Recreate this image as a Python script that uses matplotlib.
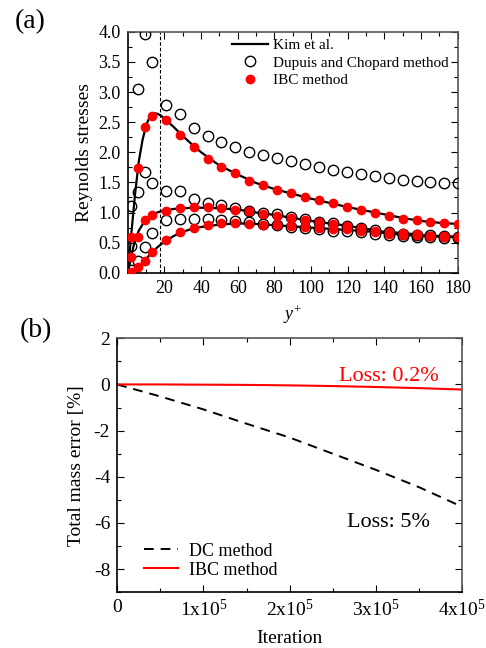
import numpy as np
import matplotlib
matplotlib.use("Agg")
import matplotlib.pyplot as plt

plt.rcParams['font.family'] = ['Liberation Serif', 'DejaVu Serif']
plt.rcParams['mathtext.fontset'] = 'custom'
plt.rcParams['mathtext.rm'] = 'Liberation Serif'
plt.rcParams['mathtext.it'] = 'Liberation Serif:italic'
plt.rcParams['lines.scale_dashes'] = False
plt.rcParams['axes.unicode_minus'] = False

# ---- panel (a): Reynolds stresses ----
# Kim et al. reference curves
kim_y = [0, 2, 4, 6, 8, 10, 12, 14, 16, 18, 20, 25, 30, 35, 40, 50, 60, 70, 80, 90,
         100, 110, 120, 130, 140, 150, 160, 170, 180]
kim_u = [0, 0.68, 1.32, 1.85, 2.2, 2.45, 2.59, 2.65, 2.64, 2.61, 2.56, 2.42, 2.27, 2.13,
         2.0, 1.78, 1.63, 1.49, 1.39, 1.31, 1.23, 1.16, 1.09, 1.03, 0.97, 0.91, 0.86, 0.83, 0.81]
kim_w = [0, 0.3, 0.55, 0.7, 0.8, 0.88, 0.93, 0.97, 1.0, 1.02, 1.03, 1.06, 1.07, 1.08,
         1.08, 1.07, 1.05, 1.0, 0.96, 0.91, 0.86, 0.82, 0.78, 0.73, 0.68, 0.66, 0.63, 0.61, 0.60]
kim_v = [0, 0.02, 0.05, 0.1, 0.16, 0.23, 0.3, 0.36, 0.42, 0.47, 0.52, 0.61, 0.68, 0.73,
         0.76, 0.80, 0.82, 0.81, 0.79, 0.77, 0.75, 0.73, 0.71, 0.69, 0.66, 0.63, 0.61, 0.60, 0.59]

# sample locations of the LBM results
yp = [1.6, 5.6, 9.6, 13.4, 20.7, 28.3, 35.9, 43.5, 51.1, 58.7, 66.3, 73.9, 81.5, 89.1,
      96.7, 104.3, 111.9, 119.5, 127.1, 134.7, 142.3, 149.9, 157.5, 165.1, 172.7, 180.0]

dc_u = [1.11, 3.05, 3.97, 3.49, 2.78, 2.63, 2.41, 2.27, 2.17, 2.09, 2.01, 1.96, 1.91, 1.86,
        1.81, 1.76, 1.71, 1.68, 1.64, 1.60, 1.57, 1.54, 1.52, 1.50, 1.49, 1.49]
dc_w = [0.45, 1.34, 1.68, 1.49, 1.35, 1.35, 1.22, 1.16, 1.12, 1.07, 1.03, 1.0, 0.97, 0.93,
        0.89, 0.85, 0.82, 0.78, 0.74, 0.71, 0.68, 0.65, 0.63, 0.62, 0.61, 0.60]
dc_v = [0.05, 0.19, 0.42, 0.66, 0.88, 0.89, 0.89, 0.89, 0.88, 0.86, 0.84, 0.81, 0.79, 0.76,
        0.74, 0.72, 0.70, 0.69, 0.67, 0.65, 0.63, 0.61, 0.60, 0.59, 0.58, 0.58]

ibc_u = [0.6, 1.74, 2.42, 2.61, 2.53, 2.29, 2.08, 1.89, 1.75, 1.65, 1.53, 1.45, 1.38, 1.32,
         1.25, 1.2, 1.16, 1.09, 1.04, 1.0, 0.95, 0.90, 0.87, 0.84, 0.82, 0.81]
ibc_w = [0.27, 0.6, 0.87, 0.96, 1.02, 1.07, 1.09, 1.09, 1.07, 1.05, 1.02, 0.98, 0.95, 0.91,
         0.87, 0.84, 0.81, 0.78, 0.74, 0.70, 0.67, 0.66, 0.64, 0.61, 0.61, 0.60]
ibc_v = [0.02, 0.1, 0.2, 0.35, 0.55, 0.67, 0.75, 0.80, 0.82, 0.82, 0.81, 0.80, 0.79, 0.77,
         0.76, 0.74, 0.73, 0.72, 0.70, 0.67, 0.65, 0.63, 0.62, 0.61, 0.60, 0.59]

y_mark = 17.5

# ---- panel (b): total mass error ----
iters = [0, 0.5e5, 1e5, 1.5e5, 2e5, 2.5e5, 3e5, 3.5e5, 4e5]
err_dc = [0, -0.52, -1.08, -1.70, -2.3, -3.0, -3.7, -4.45, -5.3]
err_ibc = [0, 0.0, -0.01, -0.02, -0.04, -0.07, -0.11, -0.16, -0.22]
xtick_labels = ['0', '1x10$^{5}$', '2x10$^{5}$', '3x10$^{5}$', '4x10$^{5}$']

fig = plt.figure(figsize=(4.86, 6.48), dpi=100)
ax1 = fig.add_axes([0.263, 0.579, 0.679, 0.372])
ax2 = fig.add_axes([0.241, 0.086, 0.710, 0.392])

ax1.plot(kim_y, kim_u, color='black', lw=1.6, label='Kim et al.')
ax1.plot(kim_y, kim_w, color='black', lw=1.6)
ax1.plot(kim_y, kim_v, color='black', lw=1.6)
for i, s in enumerate([dc_u, dc_w, dc_v]):
    ax1.plot(yp, s, 'o', ms=7.5, mfc='none', mec='black', mew=1.0,
             label='Dupuis and Chopard method' if i == 0 else None, zorder=3)
for i, s in enumerate([ibc_u, ibc_w, ibc_v]):
    ax1.plot(yp, s, 'o', ms=6, color='#ff0000', mec='#ff0000',
             label='IBC method' if i == 0 else None, zorder=4)
ax1.axvline(y_mark, color='black', lw=0.8, ls=(0, (2.5, 1.5)))

ax1.set_xlim(0, 180)
ax1.set_ylim(0, 4.0)
ax1.set_xticks(range(20, 181, 20))
ax1.set_xticks(range(10, 181, 10), minor=True)
ax1.set_yticks(np.arange(0, 4.01, 0.5))
ax1.set_yticks(np.arange(0, 4.01, 0.25), minor=True)
ax1.set_yticklabels(['%.1f' % v for v in np.arange(0, 4.01, 0.5)])
ax1.set_xlabel('$y^{+}$', fontsize=13, labelpad=5)
ax1.set_ylabel('Reynolds stresses', fontsize=14, labelpad=4)
ax1.legend(loc='upper right', bbox_to_anchor=(1.0, 1.01), frameon=False, fontsize=11,
           handlelength=2.4, handletextpad=0.3, labelspacing=0.25, borderaxespad=0.2)

ax2.plot(iters, err_dc, color='black', lw=1.4, dashes=(7, 5), label='DC method')
ax2.plot(iters, err_ibc, color='#ff0000', lw=1.5, label='IBC method')
ax2.text(3.15e5, 0.35, 'Loss: 0.2%', color='#ff0000', fontsize=16, ha='center', va='center')
ax2.text(3.15e5, -6.0, 'Loss: 5%', color='black', fontsize=16, ha='center', va='center')
ax2.set_xlim(0, 4e5)
ax2.set_ylim(-9, 2)
ax2.set_xticks(iters[::2])
ax2.set_xticklabels(xtick_labels)
ax2.set_xticks(iters, minor=True)
ax2.set_yticks([2, 0, -2, -4, -6, -8])
ax2.set_yticks(range(-9, 3), minor=True)
ax2.set_xlabel('Iteration', fontsize=14, labelpad=7)
ax2.set_ylabel('Total mass error [%]', fontsize=14, labelpad=6)
ax2.legend(loc='lower left', bbox_to_anchor=(0.03, -0.01), frameon=False, fontsize=13,
           handlelength=1.9, handletextpad=0.6, labelspacing=0.1)

for ax, fs in [(ax1, 13), (ax2, 14)]:
    ax.tick_params(which='both', direction='in', top=True, right=True, labelsize=fs)
    ax.tick_params(which='major', length=5, width=0.8, pad=5)
    ax.tick_params(which='minor', length=3, width=0.8)
    for side in ['left', 'bottom']:
        ax.spines[side].set_linewidth(1.2)
        ax.spines[side].set_color('black')
    for side in ['top', 'right']:
        ax.spines[side].set_linewidth(1.2)
        ax.spines[side].set_color('#555555')

fig.text(0.062, 0.966, '(a)', fontsize=20, ha='center', va='center')
fig.text(0.074, 0.49, '(b)', fontsize=20, ha='center', va='center')

fig.savefig('out.png', dpi=100)
